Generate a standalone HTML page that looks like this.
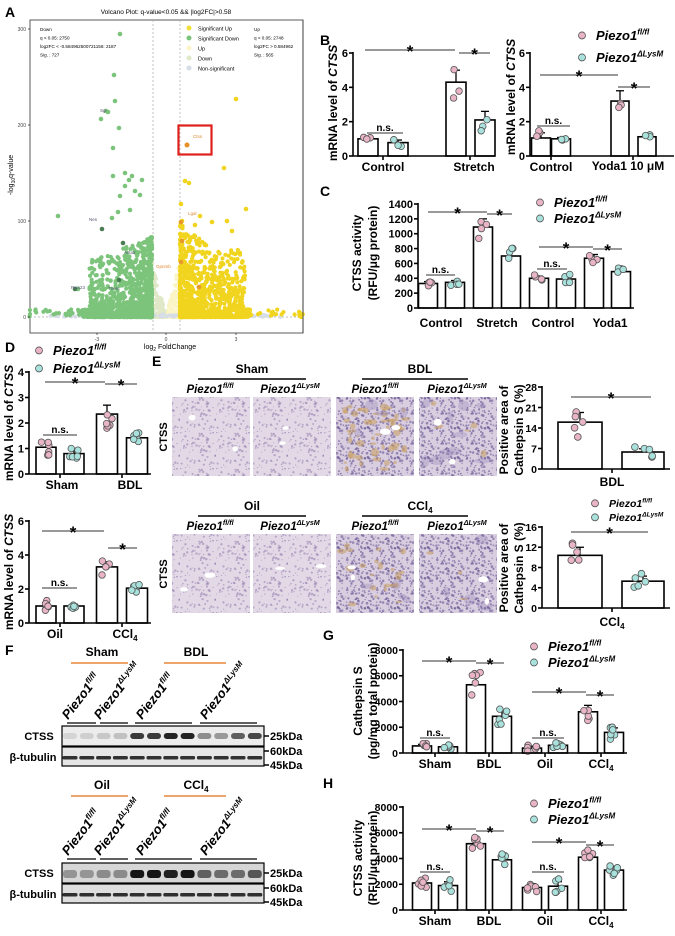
<!DOCTYPE html>
<html><head><meta charset="utf-8"><style>
html,body{margin:0;padding:0;background:#fff}
svg{display:block}
text{font-family:"Liberation Sans",Arial,sans-serif}
</style></head><body>
<svg id="s" width="675" height="936" viewBox="0 0 675 936" xmlns="http://www.w3.org/2000/svg">
<defs>
<pattern id="tis" width="36" height="36" patternUnits="userSpaceOnUse"><rect width="36" height="36" fill="#e3d9e6"/><g id="tisd"></g></pattern>
<pattern id="tis2" width="30" height="30" patternUnits="userSpaceOnUse"><rect width="30" height="30" fill="#d9cde0"/><g id="tisd2"></g></pattern>
</defs>
<g id="g"></g>
</svg>
<script>
var G=document.getElementById('g');var H='';
var seed=12345;function R(){seed|=0;seed=seed+0x6D2B79F5|0;var t=Math.imul(seed^seed>>>15,1|seed);t=t+Math.imul(t^t>>>7,61|t)^t;return((t^t>>>14)>>>0)/4294967296;}
function L(x1,y1,x2,y2,w,c){H+='<line x1="'+x1+'" y1="'+y1+'" x2="'+x2+'" y2="'+y2+'" stroke="'+(c||'#000')+'" stroke-width="'+(w||1)+'"/>';}
function T(x,y,s,sz,o){o=o||{};H+='<text x="'+x+'" y="'+y+'" font-size="'+sz+'" '+(o.b===false?'':'font-weight="bold" ')+(o.i?'font-style="italic" ':'')+'text-anchor="'+(o.a||'start')+'" fill="'+(o.c||'#000')+'"'+(o.r!==undefined?' transform="rotate('+o.r+' '+x+' '+y+')"':'')+'>'+s+'</text>';}
function C(x,y,r,f,st,sw){H+='<circle cx="'+x+'" cy="'+y+'" r="'+r+'" fill="'+f+'"'+(st?' stroke="'+st+'" stroke-width="'+(sw||0.8)+'"':'')+'/>';}
function PZ(x,y,sz,sup,o){o=o||{};H+='<text x="'+x+'" y="'+y+'" font-size="'+sz+'" font-weight="bold" font-style="italic" text-anchor="'+(o.a||'start')+'"'+(o.r!==undefined?' transform="rotate('+o.r+' '+x+' '+y+')"':'')+'>Piezo1<tspan font-size="'+(sz*0.62)+'" dy="'+(-sz*0.42)+'">'+sup+'</tspan></text>';}
var FL='fl/fl',DL='ΔLysM';var PINK='#e8b4c6',TEAL='#a9e2dc';
function chart(o){
 var ax=o.ax,y0=o.y0,y1=o.y1,vm=o.vmax;function Y(v){return y0-(y0-y1)*v/vm;}
 o.bars.forEach(function(b){var x=b[0],w=b[1],v=b[2],col=b[3];var yt=Y(v);
  H+='<rect x="'+(x-w/2)+'" y="'+yt+'" width="'+w+'" height="'+(y0-yt)+'" fill="#fff" stroke="#000" stroke-width="1.6"/>';
  var e=b[4]||v*0.12;L(x,yt,x,Y(v+e),1.3);L(x-4,Y(v+e),x+4,Y(v+e),1.3);
  var n=o.n||4;for(var i=0;i<n;i++){var pv=v+(R()-0.5)*2*e*1.6;var px=x+(R()-0.5)*w*0.5;C(px,Y(pv),o.pr||3.3,col,'#555',0.8);}
 });
 L(ax,y0,ax,y1-1,1.6);L(ax,y0,o.xend,y0,1.6);
 o.ticks.forEach(function(t){L(ax-4,Y(t),ax,Y(t),1.6);T(ax-5,Y(t)+o.ts*0.36,o.fmt?o.fmt(t):t,o.ts,{a:'end'});});
 (o.xt||[]).forEach(function(t){L(t,y0,t,y0+4,1.6);});
 return Y;}
function star(x1,x2,y,ns){L(x1,y,x2,y,1,'#333');if(ns)T((x1+x2)/2,y-2,'n.s.',10,{a:'middle'});else T((x1+x2)/2,y+7,'*',17,{a:'middle'});}
function leg(x,y1,y2,sz){C(x,y1-sz*0.35,3.5,PINK,'#555');PZ(x+14,y1,sz,FL);C(x,y2-sz*0.35,3.5,TEAL,'#555');PZ(x+14,y2,sz,DL);}

// ---------- Panel A ----------
T(5,17,'A',14);
T(166,14,'Volcano Plot: q-value&lt;0.05 &amp;&amp; |log2FC|&gt;0.58',6.5,{a:'middle',b:false});
H+='<rect x="30" y="20" width="273" height="313" fill="#fff" stroke="#333" stroke-width="0.8"/>';
function VX(d){return 166+d*23.3;}function VY(q){return 317-q*0.96;}
H+='<g stroke-dasharray="2,2"><line x1="153" y1="20" x2="153" y2="333" stroke="#aaa" stroke-width="0.7"/><line x1="180" y1="20" x2="180" y2="333" stroke="#aaa" stroke-width="0.7"/><line x1="30" y1="317" x2="303" y2="317" stroke="#aaa" stroke-width="0.7"/></g>';
for(var i=0;i<260;i++){var d=(R()-0.5)*1.2;var q=Math.pow(R(),2)*60*(Math.abs(d)/0.6);C(VX(d),VY(q),2,d<0?'#e0e8c8':'#fbf4c6');}
for(var i=0;i<120;i++){var d=(R()-0.5)*10;C(VX(d),VY(R()*3),2,'#d6dde6');}
for(var i=0;i<1300;i++){var d=-0.6-Math.pow(R(),1.8)*3.0;if(R()<0.04)d=-0.6-R()*5.4;var q=Math.pow(R(),3.2)*(60+Math.max(0,3-Math.abs(d))*10);if(d<-3.3)q=R()*8;C(VX(d),VY(q),2.1,'#7cc47b');}
for(var i=0;i<1300;i++){var d=0.6+Math.pow(R(),2)*3.0;if(R()<0.04)d=0.6+R()*5.4;var q=Math.pow(R(),3.2)*(70+Math.max(0,2-d)*20);if(d>3.4)q=R()*8;C(VX(d),VY(q),2.1,'#f1d41e');}
[[114,75],[120,34],[115,101],[101,119],[106,111],[119,128],[113,148],[125,173],[113,176],[132,176],[129,180],[142,180],[58,216],[78,289],[108,112],[125,186],[120,196],[135,191],[140,195],[130,210],[118,212],[112,218]].forEach(function(p){C(p[0],p[1],2.3,'#7cc47b');});
[[102,229],[123,243],[75,289],[119,280]].forEach(function(p){C(p[0],p[1],2.3,'#4b7d55');});
[[236,99],[224,168],[185,181],[189,183],[246,209],[181,204],[182,221],[227,221],[212,222],[232,231],[237,278],[200,216],[195,225],[205,245],[190,240]].forEach(function(p){C(p[0],p[1],2.3,'#f1d41e');});
[[181,222],[182,241],[181,262],[199,287]].forEach(function(p){C(p[0],p[1],2.3,'#e79a2a');});
C(187,145,2.5,'#e6902a');
T(193,138,'Ctss',4.5,{b:false,c:'#e08a30'});T(188,215,'Lgal',4.5,{b:false,c:'#e08a30'});T(156,268,'Gpnmb',4.5,{b:false,c:'#e08a30'});
T(89,221,'Nes',4.5,{b:false,c:'#557'});T(124,254,'Acta2',4.5,{b:false,c:'#557'});T(71,289,'Prss23',4.5,{b:false,c:'#557'});T(108,290,'Tnem',4.5,{b:false,c:'#557'});T(100,112,'Sgi',4.5,{b:false,c:'#557'});
H+='<rect x="178.5" y="125.5" width="33" height="29" fill="none" stroke="#e0201c" stroke-width="2.2"/>';
['Down','q &lt; 0.05: 2750','log2FC &lt; -0.584962500721156: 2187','Sig. : 727'].forEach(function(s,i){T(40,31+i*8.5,s,4.6,{b:false});});
['Up','q &lt; 0.05: 2748','log2FC &gt; 0.584962','Sig. : 565'].forEach(function(s,i){T(254,31+i*8.5,s,4.6,{b:false});});
H+='<rect x="303.4" y="20" width="20" height="60" fill="#fff"/>';L(303,20,303,333,0.8,'#333');
[['Significant Up','#f1df3a'],['Significant Down','#7cc47b'],['Up','#fbf4c6'],['Down','#dfe8c8'],['Non-significant','#d6dde6']].forEach(function(s,i){C(189,28+i*10,2.5,s[1]);T(198,30.5+i*10,s[0],5.5,{b:false});});
[[29,'300'],[125,'200'],[221,'100'],[317,'0']].forEach(function(t){L(28,t[0],30,t[0],0.6);T(26,t[0]+2,t[1],5,{a:'end',b:false,c:'#444'});});
[[97,'-3'],[166,'0'],[236,'3']].forEach(function(t){L(t[0],333,t[0],335,0.6);T(t[0],341,t[1],5,{a:'middle',b:false,c:'#444'});});
H+='<text x="13" y="175" font-size="7" text-anchor="middle" transform="rotate(-90 13 175)">-log<tspan font-size="5" dy="2">10</tspan><tspan dy="-2">q-value</tspan></text>';
H+='<text x="170" y="349" font-size="7" text-anchor="middle">log<tspan font-size="5" dy="2">2</tspan><tspan dy="-2"> FoldChange</tspan></text>';

// ---------- Panel B ----------
T(320,45,'B',14);
chart({ax:353,y0:156,y1:53,vmax:6,ticks:[0,2,4,6],ts:11,xend:495,n:3,bars:[[368,20,1.0,PINK,0.08],[398,20,0.78,TEAL,0.15],[456,20,4.3,PINK,0.7],[485,20,2.1,TEAL,0.5]],xt:[383,470]});
T(383,171,'Control',12,{a:'middle'});T(474,171,'Stretch',12,{a:'middle'});
T(337,103,'mRNA level of <tspan font-style="italic">CTSS</tspan>',12,{a:'middle',r:-90});
star(365,455,50);star(459,490,53);star(367,403,133,true);
chart({ax:530,y0:156,y1:53,vmax:6,ticks:[0,2,4,6],ts:11,xend:674,n:3,bars:[[541,19,1.05,PINK,0.3],[561,19,1.0,TEAL,0.08],[620,18,3.2,PINK,0.6],[647,18,1.12,TEAL,0.08]],xt:[551,633]});
T(551,171,'Control',12,{a:'middle'});T(628,170,'Yoda1 10 μM',12,{a:'middle'});
T(515,97,'mRNA level of <tspan font-style="italic">CTSS</tspan>',12,{a:'middle',r:-90});
star(540,618,75);star(618,650,87);star(537,570,126,true);
leg(582,40,62,13);

// ---------- Panel C ----------
T(320,196,'C',14);
chart({ax:418,y0:308,y1:204,vmax:1400,ticks:[0,200,400,600,800,1000,1200,1400],ts:11,xend:634,n:4,bars:[[428,19,330,PINK,25],[455,19,345,TEAL,25],[483,19,1090,PINK,110],[511,19,700,TEAL,70],[539,19,400,PINK,30],[566,19,390,TEAL,40],[594,19,670,PINK,50],[621,19,490,TEAL,35]]});
T(441,327,'Control',12,{a:'middle'});T(497,327,'Stretch',12,{a:'middle'});T(553,327,'Control',12,{a:'middle'});T(610,327,'Yoda1',12,{a:'middle'});
T(361,253,'CTSS activity',12,{a:'middle',r:-90});T(377,253,'(RFU/μg protein)',12,{a:'middle',r:-90});
star(428,487,212);star(487,512,214);star(539,593,247);star(593,622,249);star(426,455,275,true);star(537,567,269,true);
leg(540,207,223,13);

// ---------- Panel D ----------
T(5,352,'D',14);leg(39,355,373,13);
chart({ax:29,y0:474,y1:372,vmax:4,ticks:[0,1,2,3,4],ts:11,xend:151,n:6,bars:[[46,20,1.05,PINK,0.2],[74,20,0.8,TEAL,0.15],[107,21,2.35,PINK,0.35],[137,21,1.42,TEAL,0.12]],xt:[60,122]});
T(62,489,'Sham',12,{a:'middle'});T(130,489,'BDL',12,{a:'middle'});
T(13,423,'mRNA level of <tspan font-style="italic">CTSS</tspan>',12,{a:'middle',r:-90});
star(45,105,382);star(105,137,384);star(43,77,435,true);
chart({ax:29,y0:623,y1:521,vmax:6,ticks:[0,2,4,6],ts:11,xend:151,n:6,bars:[[46,20,1.0,PINK,0.2],[74,20,1.0,TEAL,0.1],[107,21,3.3,PINK,0.3],[137,21,2.05,TEAL,0.15]],xt:[60,122]});
T(55,638,'Oil',12,{a:'middle'});
H+='<text x="125" y="638" font-size="12" font-weight="bold" text-anchor="middle">CCl<tspan font-size="8" dy="3">4</tspan></text>';
T(13,572,'mRNA level of <tspan font-style="italic">CTSS</tspan>',12,{a:'middle',r:-90});
star(42,104,531);star(108,137,548);star(42,77,588,true);

// ---------- Panel E ----------
T(152,366,'E',14);
function hist(rows){rows.forEach(function(r){
 var y=r.y;T(252,r.hy,r.h1,12,{a:'middle'});L(198,r.hy+6,306,r.hy+6,1.5);
 H+='<text x="420" y="'+r.hy+'" font-size="12" font-weight="bold" text-anchor="middle">'+r.h2+'</text>';L(362,r.hy+6,468,r.hy+6,1.5);
 [[210,FL],[290,DL],[375,FL],[457,DL]].forEach(function(p){PZ(p[0],y-4,11.5,p[1],{a:'middle'});});
 T(167,y+40,'CTSS',11,{a:'middle',r:-90});
 [172,253,336,419].forEach(function(x,k){H+='<rect x="'+x+'" y="'+y+'" width="78" height="79" fill="url(#'+(k>=2?'tis2':'tis')+')"/>';
  var cnt=r.br[k];for(var i=0;i<cnt;i++){var ex=x+5+R()*68,ey=y+5+R()*69;H+='<ellipse cx="'+ex+'" cy="'+ey+'" rx="'+(1.5+R()*3.5)+'" ry="'+(1+R()*3)+'" fill="#c9a060" opacity="0.55"/>';}
  var pc=r.pu[k];for(var i=0;i<pc;i++){H+='<ellipse cx="'+(x+5+R()*68)+'" cy="'+(y+5+R()*69)+'" rx="'+(3+R()*5)+'" ry="'+(2+R()*4)+'" fill="#8e7fb4" opacity="0.3"/>';}
  for(var i=0;i<2;i++){H+='<ellipse cx="'+(x+10+R()*58)+'" cy="'+(y+10+R()*58)+'" rx="'+(2+R()*4)+'" ry="'+(1.5+R()*2)+'" fill="#fff"/>';}
 });});}
hist([{y:397,hy:373,h1:'Sham',h2:'BDL',br:[0,0,55,6],pu:[0,0,4,10]},{y:534,hy:510,h1:'Oil',h2:'CCl<tspan font-size="8" dy="3">4</tspan>',br:[0,0,22,3],pu:[0,0,4,4]}]);
chart({ax:542,y0:469,y1:387,vmax:28,ticks:[0,7,14,21,28],ts:10.5,xend:670,n:5,pr:3.4,bars:[[580,44,16,PINK,3.3],[643,42,5.8,TEAL,1.1]],xt:[612]});
T(612,486,'BDL',12,{a:'middle'});
T(508,430,'Positive area of',12,{a:'middle',r:-90});T(523,430,'Cathepsin S (%)',12,{a:'middle',r:-90});
star(571,651,397);
leg(595,507,521,10.5);
chart({ax:542,y0:608,y1:527,vmax:16,ticks:[0,4,8,12,16],ts:10.5,xend:670,n:5,pr:3.4,bars:[[580,44,10.4,PINK,1.6],[643,42,5.3,TEAL,1.0]],xt:[612]});
H+='<text x="612" y="626" font-size="12" font-weight="bold" text-anchor="middle">CCl<tspan font-size="8" dy="3">4</tspan></text>';
T(508,568,'Positive area of',12,{a:'middle',r:-90});T(523,568,'Cathepsin S (%)',12,{a:'middle',r:-90});
star(571,648,532);

// ---------- Panel F ----------
T(5,655,'F',14);
function blot(o){
 T(102,o.hy,o.h1,12,{a:'middle'});L(71,o.hy+7,128,o.hy+7,1.6,'#e8873a');
 H+='<text x="196" y="'+o.hy+'" font-size="12" font-weight="bold" text-anchor="middle">'+o.h2+'</text>';L(164,o.hy+7,226,o.hy+7,1.6,'#e8873a');
 [[68,FL],[100,DL],[142,FL],[206,DL]].forEach(function(p){PZ(p[0],o.ly,13,p[1],{r:-52});});
 L(67,o.ly+3,96,o.ly+3,1.2);L(100,o.ly+3,128,o.ly+3,1.2);L(135,o.ly+3,192,o.ly+3,1.2);L(200,o.ly+3,257,o.ly+3,1.2);
 var y=o.by;H+='<rect x="62" y="'+y+'" width="202" height="20" fill="'+o.bg+'" stroke="#000" stroke-width="1.2"/>';
 H+='<rect x="62" y="'+(y+21)+'" width="202" height="19" fill="'+o.bg2+'" stroke="#000" stroke-width="1.2"/>';
 for(var k=0;k<12;k++){var cx=70+k*16.8;var d=o.int[k];
  H+='<rect x="'+(cx-7)+'" y="'+(y+7)+'" width="14" height="'+(o.th||6)+'" rx="3" fill="#000" opacity="'+d+'"/>';
  H+='<rect x="'+(cx-7.5)+'" y="'+(y+30)+'" width="15" height="3.5" rx="1.5" fill="#111" opacity="0.85"/>';}
 T(39,y+14,'CTSS',11,{a:'middle'});T(33,y+35,'β-tubulin',11,{a:'middle'});
 L(264,y+10,269,y+10,1.5);T(270,y+14,'25kDa',11);L(264,y+25,269,y+25,1.5);T(270,y+29,'60kDa',11);L(264,y+39,269,y+39,1.5);T(270,y+43,'45kDa',11);
}
blot({hy:656,h1:'Sham',h2:'BDL',ly:720,by:726,bg:'#ececec',bg2:'#e6e6e6',int:[.1,.12,.15,.18,.75,.75,.85,.85,.4,.35,.6,.7]});
blot({hy:789,h1:'Oil',h2:'CCl<tspan font-size="8" dy="3">4</tspan>',ly:856,by:863,bg:'#d6d6d6',bg2:'#dedede',th:8,int:[.3,.3,.35,.35,.9,.9,.85,.9,.55,.5,.5,.6]});

// ---------- Panel G, H ----------
function gh(o){
 T(323,o.ly,o.L,14);
 var bars=[],vals=o.v,errs=o.e,cs=[435,489,545,601];
 for(var g=0;g<4;g++){bars.push([cs[g]-13,19,vals[g*2],PINK,errs[g*2]]);bars.push([cs[g]+13,19,vals[g*2+1],TEAL,errs[g*2+1]]);}
 chart({ax:403,y0:o.y0,y1:o.y0-103,vmax:8000,ticks:[0,2000,4000,6000,8000],ts:10.5,xend:627,n:6,bars:bars,xt:cs});
 T(435,o.y0+15,'Sham',12,{a:'middle'});T(489,o.y0+15,'BDL',12,{a:'middle'});T(545,o.y0+15,'Oil',12,{a:'middle'});
 H+='<text x="601" y="'+(o.y0+15)+'" font-size="12" font-weight="bold" text-anchor="middle">CCl<tspan font-size="8" dy="3">4</tspan></text>';
 T(362,o.y0-52,o.y1l,12,{a:'middle',r:-90});T(377,o.y0-52,o.y2l,12,{a:'middle',r:-90});
 star(422,476,o.s[0]);star(476,504,o.s[0]+2);star(532,586,o.s[1]);star(586,614,o.s[1]+3);star(420,450,o.s[2],true);star(532,564,o.s[2],true);
 leg(534,o.lg,o.lg+16,13);
}
gh({L:'G',ly:640,y0:753,v:[550,480,5300,2850,380,600,3200,1600],e:[120,150,700,400,150,150,500,350],y1l:'Cathepsin S',y2l:'(pg/mg total protein)',s:[661,692,738],lg:651});
gh({L:'H',ly:788,y0:910,v:[2100,1900,5150,3900,1750,1850,4100,3100],e:[250,300,350,300,300,350,350,300],y1l:'CTSS activity',y2l:'(RFU/μg protein)',s:[829,842,872],lg:808});

G.innerHTML=H;
var d='';for(var i=0;i<70;i++){d+='<circle cx="'+(R()*36)+'" cy="'+(R()*36)+'" r="'+(0.5+R()*0.8)+'" fill="#8873a8" opacity="0.5"/>';}
document.getElementById('tisd').innerHTML=d;
d='';for(var i=0;i<80;i++){d+='<circle cx="'+(R()*30)+'" cy="'+(R()*30)+'" r="'+(0.5+R()*0.9)+'" fill="#5a4a8a" opacity="0.55"/>';}
document.getElementById('tisd2').innerHTML=d;
</script>
</body></html>
